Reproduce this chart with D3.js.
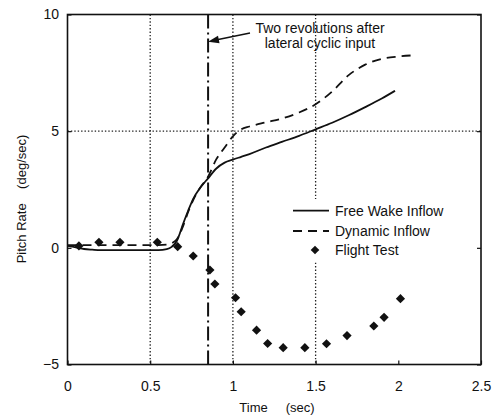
<!DOCTYPE html>
<html>
<head>
<meta charset="utf-8">
<script src="https://cdn.jsdelivr.net/npm/d3@7/dist/d3.min.js"></script>
<style>
  html, body { margin: 0; padding: 0; background: #fff; }
  text { font-family: "Liberation Sans", Arial, Helvetica, sans-serif; fill: #111; }
</style>
</head>
<body>
<svg id="chart" width="495" height="419"></svg>
<script>
// ---- data ----
const xTicks = [0, 0.5, 1, 1.5, 2, 2.5];
const yTicks = [-5, 0, 5, 10];
const xGrid = [0.5, 1, 1.5];
const yGrid = [5];
const markerTime = 0.85;

const freeWakeT = [0, 0.05, 0.1, 0.15, 0.2, 0.3, 0.4, 0.5, 0.55, 0.6, 0.63, 0.66, 0.7, 0.73, 0.76, 0.8, 0.85, 0.9, 0.95, 1.0, 1.05, 1.1, 1.2, 1.3, 1.4, 1.5, 1.6, 1.7, 1.8, 1.9, 1.98];
const freeWakeV = [0.08, 0.02, -0.05, -0.08, -0.1, -0.1, -0.1, -0.1, -0.1, -0.06, 0.04, 0.28, 1.05, 1.6, 2.1, 2.55, 2.98, 3.4, 3.65, 3.78, 3.9, 4.02, 4.3, 4.55, 4.8, 5.08, 5.36, 5.68, 6.03, 6.4, 6.73];

const dynamicT = [0, 0.1, 0.2, 0.3, 0.4, 0.5, 0.55, 0.6, 0.63, 0.66, 0.7, 0.73, 0.76, 0.8, 0.85, 0.9, 0.95, 1.0, 1.05, 1.1, 1.2, 1.3, 1.4, 1.5, 1.6, 1.7, 1.8, 1.9, 2.0, 2.09];
const dynamicV = [0.12, 0.12, 0.12, 0.12, 0.12, 0.12, 0.12, 0.14, 0.2, 0.35, 0.95, 1.55, 2.05, 2.55, 3.05, 3.8, 4.3, 4.78, 5.08, 5.2, 5.38, 5.55, 5.8, 6.15, 6.7, 7.4, 7.85, 8.1, 8.2, 8.25];

const flightT = [0.069, 0.19, 0.317, 0.543, 0.666, 0.76, 0.861, 0.891, 1.016, 1.05, 1.143, 1.21, 1.304, 1.435, 1.566, 1.69, 1.852, 1.914, 2.013];
const flightV = [0.08, 0.24, 0.24, 0.24, 0.05, -0.35, -0.95, -1.55, -2.14, -2.74, -3.53, -4.10, -4.28, -4.28, -4.11, -3.76, -3.35, -2.98, -2.18];

const legendLabels = ["Free Wake Inflow", "Dynamic Inflow", "Flight Test"];
const annotationLines = ["Two revolutions after", "lateral cyclic input"];

// ---- layout ----
const svg = d3.select("#chart");
const L = 67.5, R = 481, T = 14.5, B = 364.5;
const x = d3.scaleLinear().domain([0, 2.5]).range([L, R]);
const y = d3.scaleLinear().domain([-5, 10]).range([B, T]);

// grid
const g = svg.append("g");
g.selectAll("line.vg").data(xGrid).join("line")
  .attr("x1", d => x(d)).attr("x2", d => x(d)).attr("y1", T).attr("y2", B)
  .attr("stroke", "#222").attr("stroke-width", 1.3).attr("stroke-dasharray", "1.4,2");
g.selectAll("line.hg").data(yGrid).join("line")
  .attr("x1", L).attr("x2", R).attr("y1", d => y(d)).attr("y2", d => y(d))
  .attr("stroke", "#222").attr("stroke-width", 1.3).attr("stroke-dasharray", "1.4,2");

// marker line (dash-dot)
g.append("line")
  .attr("x1", x(markerTime)).attr("x2", x(markerTime)).attr("y1", T).attr("y2", B)
  .attr("stroke", "#111").attr("stroke-width", 2).attr("stroke-dasharray", "14,4,2,4");

// legend background
svg.append("rect").attr("x", 288).attr("y", 199).attr("width", 170).attr("height", 62).attr("fill", "#fff");

// lines
const lineGen = d3.line().x(d => x(d[0])).y(d => y(d[1])).curve(d3.curveMonotoneX);
svg.append("path").datum(d3.zip(freeWakeT, freeWakeV))
  .attr("d", lineGen).attr("fill", "none").attr("stroke", "#111").attr("stroke-width", 1.8);
svg.append("path").datum(d3.zip(dynamicT, dynamicV))
  .attr("d", lineGen).attr("fill", "none").attr("stroke", "#111").attr("stroke-width", 1.8)
  .attr("stroke-dasharray", "9,6");

// diamonds
const diamond = r => `M0,${-r}L${r},0L0,${r}L${-r},0Z`;
svg.selectAll("path.ft").data(d3.zip(flightT, flightV)).join("path")
  .attr("d", diamond(4.6))
  .attr("transform", d => `translate(${x(d[0])},${y(d[1])})`)
  .attr("fill", "#111");

// axes
const xAxis = d3.axisBottom(x).tickValues(xTicks).tickFormat(d3.format("")).tickSize(-4).tickPadding(17);
const yAxis = d3.axisLeft(y).tickValues(yTicks).tickFormat(d3.format("")).tickSize(-4).tickPadding(8.5);
const ax = svg.append("g").attr("transform", `translate(0,${B})`).call(xAxis);
const ay = svg.append("g").attr("transform", `translate(${L},0)`).call(yAxis);
const ayr = svg.append("g").attr("transform", `translate(${R},0)`).call(d3.axisRight(y).tickValues(yTicks).tickSize(-4).tickFormat(""));
[ax, ay, ayr].forEach(a => {
  a.select(".domain").remove();
  a.selectAll(".tick line").attr("stroke", "#111").attr("stroke-width", 1.2);
  a.selectAll(".tick text").attr("font-size", 14).attr("fill", "#111")
    .attr("font-family", '"Liberation Sans", Arial, sans-serif');
});

// frame
svg.append("rect").attr("x", L).attr("y", T).attr("width", R - L).attr("height", B - T)
  .attr("fill", "none").attr("stroke", "#111").attr("stroke-width", 1.6);

// axis labels
svg.append("text").attr("x", 277).attr("y", 412).attr("text-anchor", "middle")
  .attr("font-size", 13).style("white-space", "pre").text("Time     (sec)");
svg.append("text").attr("transform", "translate(26,199) rotate(-90)").attr("text-anchor", "middle")
  .attr("font-size", 13).style("white-space", "pre").text("Pitch Rate    (deg/sec)");

// annotation
svg.selectAll("text.ann").data(annotationLines).join("text")
  .attr("x", 320).attr("y", (d, i) => 33 + i * 15).attr("text-anchor", "middle")
  .attr("font-size", 14).text(d => d);
const ax1 = 250, ay1 = 33, ax2 = 208, ay2 = 41.7;
svg.append("line").attr("x1", ax1).attr("y1", ay1).attr("x2", ax2 + 9).attr("y2", ay2 - 1.9)
  .attr("stroke", "#111").attr("stroke-width", 1.5);
const ang = Math.atan2(ay2 - ay1, ax2 - ax1) * 180 / Math.PI;
svg.append("path").attr("d", "M0,0L-11,-3.8L-11,3.8Z")
  .attr("transform", `translate(${ax2},${ay2}) rotate(${ang})`).attr("fill", "#111");

// legend
const lg = svg.append("g");
const rowsY = [210.7, 231, 250];
lg.append("line").attr("x1", 293).attr("x2", 329).attr("y1", rowsY[0]).attr("y2", rowsY[0])
  .attr("stroke", "#111").attr("stroke-width", 1.8);
lg.append("line").attr("x1", 293).attr("x2", 329).attr("y1", rowsY[1]).attr("y2", rowsY[1])
  .attr("stroke", "#111").attr("stroke-width", 1.8).attr("stroke-dasharray", "9,6");
lg.append("path").attr("d", diamond(4.3)).attr("transform", `translate(315,${rowsY[2]})`).attr("fill", "#111");
lg.selectAll("text").data(legendLabels).join("text")
  .attr("x", 335).attr("y", (d, i) => rowsY[i] + 5).attr("font-size", 14).text(d => d);
</script>
</body>
</html>
